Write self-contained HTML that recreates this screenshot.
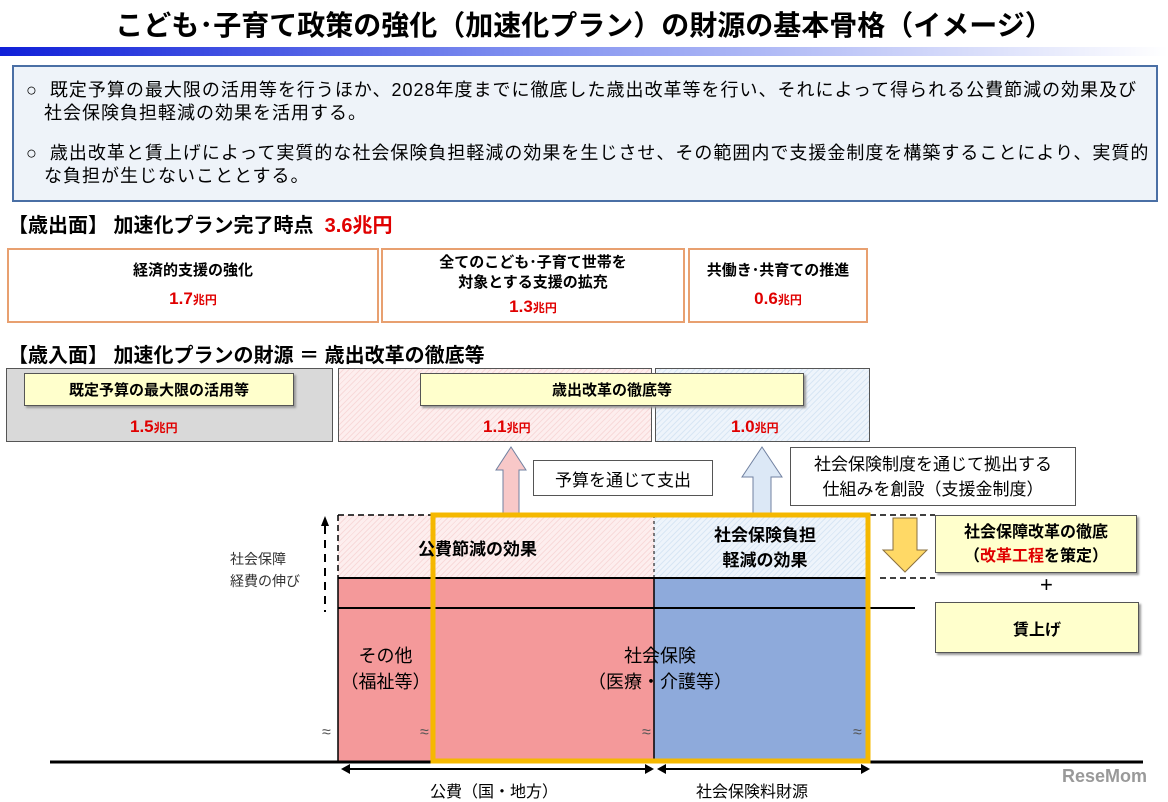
<!DOCTYPE html>
<html><head><meta charset="utf-8"><style>
body{margin:0;width:1168px;height:802px;background:#fff;position:relative;overflow:hidden;font-family:"Liberation Sans","Noto Sans CJK JP",sans-serif;color:#000}
.a{position:absolute}
.c{display:flex;align-items:center;justify-content:center;text-align:center}
.b{font-weight:bold}
.r{color:#e00000;font-weight:bold}
.y{background:#ffffcc;border:1px solid #555;box-shadow:2px 2px 2px #999}
.o{border:2px solid #e8a070;box-sizing:border-box}
.pk{background:repeating-linear-gradient(135deg,#fdeeee 0 3px,#f8dada 3px 4px)}
.bl{background:repeating-linear-gradient(135deg,#eef4fb 0 3px,#d8e6f4 3px 4px)}
.amt{font-size:17px}
.amt small{font-size:12px}
</style></head><body>
<div class="a b" style="left:0;width:1168px;top:4px;text-align:center;font-size:28px">こども･子育て政策の強化（加速化プラン）の財源の基本骨格（イメージ）</div>
<div class="a" style="left:0;top:47px;width:1168px;height:9px;background:linear-gradient(90deg,#1020d8,#8090f0 45%,#fff)"></div>
<div class="a" style="left:12px;top:65px;width:1142px;height:133px;background:#eef3f9;border:2px solid #4a6fa5;font-size:18px;line-height:23px;letter-spacing:1px;white-space:nowrap">
<div style="position:absolute;left:12px;top:12px">○&nbsp; 既定予算の最大限の活用等を行うほか、2028年度までに徹底した歳出改革等を行い、それによって得られる公費節減の効果及び<br>&nbsp;&nbsp;&nbsp;社会保険負担軽減の効果を活用する。</div>
<div style="position:absolute;left:12px;top:75px">○&nbsp; 歳出改革と賃上げによって実質的な社会保険負担軽減の効果を生じさせ、その範囲内で支援金制度を構築することにより、実質的<br>&nbsp;&nbsp;&nbsp;な負担が生じないこととする。</div>
</div>
<div class="a b" style="left:8px;top:209px;font-size:20px">【歳出面】 加速化プラン完了時点 &nbsp;<span style="color:#e00000">3.6兆円</span></div>
<div class="a o c b" style="left:7px;top:248px;width:372px;height:75px;font-size:15px;flex-direction:column;line-height:28px"><div>経済的支援の強化</div><div class="r amt">1.7<small>兆円</small></div></div>
<div class="a o c b" style="left:381px;top:248px;width:304px;height:75px;font-size:15px;flex-direction:column;line-height:20px"><div>全てのこども･子育て世帯を<br>対象とする支援の拡充</div><div class="r amt" style="margin-top:4px">1.3<small>兆円</small></div></div>
<div class="a o c b" style="left:688px;top:248px;width:180px;height:75px;font-size:15px;flex-direction:column;line-height:28px"><div>共働き･共育ての推進</div><div class="r amt">0.6<small>兆円</small></div></div>
<div class="a b" style="left:8px;top:339px;font-size:20px">【歳入面】 加速化プランの財源 ＝ 歳出改革の徹底等</div>
<div class="a" style="left:6px;top:368px;width:325px;height:72px;background:#d9d9d9;border:1px solid #555"></div>
<div class="a pk" style="left:338px;top:368px;width:312px;height:72px;border:1px solid #555"></div>
<div class="a bl" style="left:655px;top:368px;width:213px;height:72px;border:1px solid #555"></div>
<div class="a y c b" style="left:24px;top:373px;width:268px;height:31px;font-size:15px">既定予算の最大限の活用等</div>
<div class="a y c b" style="left:420px;top:373px;width:382px;height:31px;font-size:15px">歳出改革の徹底等</div>
<div class="a r amt" style="left:130px;top:417px">1.5<small>兆円</small></div>
<div class="a r amt" style="left:483px;top:417px">1.1<small>兆円</small></div>
<div class="a r amt" style="left:731px;top:417px">1.0<small>兆円</small></div>
<svg class="a" style="left:0;top:0" width="1168" height="802">
<polygon points="511,447 526,470 519,470 519,525 503,525 503,470 496,470" fill="#f8c8c8" stroke="#7080a0"/>
<polygon points="762,447 782,477 771,477 771,515 753,515 753,477 742,477" fill="#dce8f6" stroke="#7080a0"/>
</svg>
<div class="a c" style="left:533px;top:460px;width:178px;height:34px;border:1px solid #555;font-size:17px;background:#fff">予算を通じて支出</div>
<div class="a c" style="left:790px;top:447px;width:284px;height:57px;border:1px solid #555;font-size:17px;line-height:25px;background:#fff">社会保険制度を通じて拠出する<br>仕組みを創設（支援金制度）</div>
<div class="a pk" style="left:338px;top:515px;width:316px;height:63px"></div>
<div class="a bl" style="left:654px;top:515px;width:216px;height:63px"></div>
<div class="a" style="left:338px;top:578px;width:316px;height:184px;background:#f4999a"></div>
<div class="a" style="left:654px;top:578px;width:216px;height:184px;background:#8eaadb"></div>
<svg class="a" style="left:0;top:0" width="1168" height="802">
<g stroke="#000" fill="none">
<path d="M338,515 H432 M870,515 H935 M880,578 H935 M338,515 V578" stroke-dasharray="6,4" stroke-width="1.5"/>
<path d="M654,515 V578" stroke-dasharray="3,3"/>
<path d="M338,578 H870" stroke-width="2"/>
<path d="M338,578 V762 M654,578 V762" stroke-width="1.5"/>
<path d="M338,608 H915" stroke-width="2"/>
<path d="M325,526 V612" stroke-dasharray="8,6" stroke-width="2"/>
<path d="M50,762 H1143" stroke-width="3"/>
<path d="M345,769 H650 M660,769 H866" stroke-width="2"/>
</g>
<polygon points="325,516 321,526 329,526" fill="#000"/>
<polygon points="341,769 350,764 350,774" fill="#000"/><polygon points="654,769 645,764 645,774" fill="#000"/>
<polygon points="657,769 666,764 666,774" fill="#000"/><polygon points="870,769 861,764 861,774" fill="#000"/>
<polygon points="893,518 917,518 917,550 927,550 905,572 883,550 893,550" fill="#ffd966" stroke="#8a7040"/>
<rect x="433" y="515" width="435" height="246" fill="none" stroke="#f5b800" stroke-width="5"/>
</svg>
<div class="a b" style="left:418px;top:535px;font-size:17px">公費節減の効果</div>
<div class="a b c" style="left:660px;top:523px;width:210px;font-size:17px;line-height:25px">社会保険負担<br>軽減の効果</div>
<div class="a" style="left:230px;top:548px;font-size:14px;line-height:22px;color:#333">社会保障<br>経費の伸び</div>
<div class="a y b" style="left:935px;top:515px;width:202px;height:58px;font-size:16px;line-height:24px;text-align:center;padding-top:5px;box-sizing:border-box">社会保障改革の徹底<br>（<span style="color:#e00000">改革工程</span>を策定）</div>
<div class="a" style="left:1040px;top:572px;font-size:22px">+</div>
<div class="a y c b" style="left:935px;top:602px;width:202px;height:49px;font-size:16px">賃上げ</div>
<div class="a c" style="left:338px;top:643px;width:95px;font-size:18px;line-height:26px">その他<br>（福祉等）</div>
<div class="a c" style="left:560px;top:643px;width:200px;font-size:18px;line-height:26px">社会保険<br>（医療・介護等）</div>
<div class="a" style="left:430px;top:778px;font-size:16px">公費（国・地方）</div>
<div class="a" style="left:696px;top:778px;font-size:16px">社会保険料財源</div>
<div class="a" style="left:322px;top:724px;font-size:16px;color:#555">≈</div>
<div class="a" style="left:420px;top:724px;font-size:16px;color:#555">≈</div>
<div class="a" style="left:642px;top:724px;font-size:16px;color:#555">≈</div>
<div class="a" style="left:853px;top:724px;font-size:16px;color:#555">≈</div>
<div class="a b" style="left:1062px;top:766px;font-size:18px;color:#999">ReseMom</div>
</body></html>
